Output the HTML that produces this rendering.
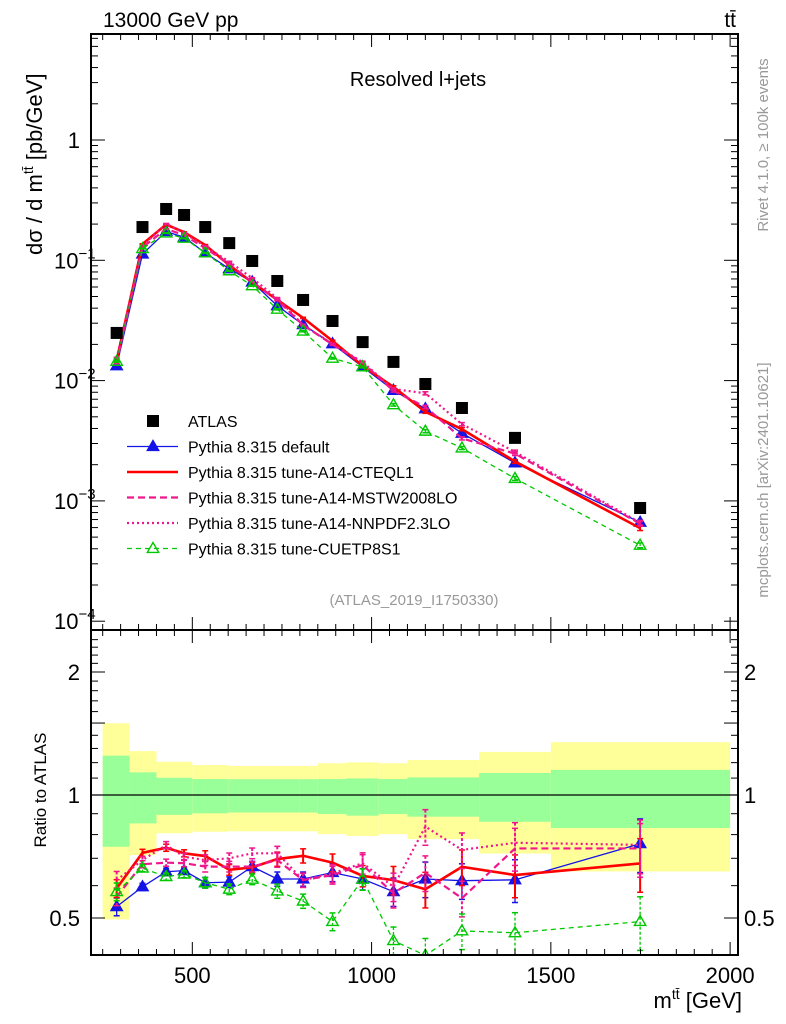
<!DOCTYPE html>
<html><head><meta charset="utf-8"><style>
body{margin:0;background:#fff;}
svg{display:block;font-family:"Liberation Sans",sans-serif;}
</style></head><body>
<svg id="c" width="786" height="1024" viewBox="0 0 786 1024"></svg>
<script>
const binEdges=[250,325,400,450,500,570,635,700,770,850,930,1020,1100,1200,1300,1500,2000];
const xCenters=[289,361,427,477,536,603,667,737,809,891,975,1061,1150,1252,1400,1749];
const atlas=[0.0249,0.189,0.267,0.238,0.189,0.139,0.0987,0.0673,0.0468,0.0313,0.0209,0.0143,0.00937,0.00592,0.00334,0.000873];
const rDefault=[0.533,0.596,0.649,0.653,0.610,0.612,0.668,0.623,0.623,0.646,0.623,0.580,0.623,0.617,0.620,0.760];
const rCTEQ=[0.591,0.722,0.743,0.720,0.709,0.656,0.665,0.697,0.710,0.683,0.634,0.619,0.588,0.667,0.637,0.680];
const rMSTW=[0.564,0.677,0.683,0.681,0.668,0.668,0.668,0.693,0.619,0.637,0.674,0.575,0.645,0.559,0.740,0.740];
const rNNPDF=[0.619,0.693,0.754,0.706,0.693,0.700,0.720,0.720,0.619,0.643,0.681,0.596,0.837,0.734,0.764,0.755];
const rCUETP=[0.580,0.662,0.631,0.640,0.610,0.588,0.622,0.582,0.550,0.490,0.622,0.440,0.405,0.465,0.460,0.490];
const relErr=[0.05,0.02,0.02,0.02,0.03,0.03,0.03,0.04,0.04,0.05,0.06,0.08,0.10,0.10,0.12,0.15];
const bandEdges=[250,325,400,500,600,700,800,850,930,1020,1100,1300,1500,2000];
const yelHi=[1.498,1.281,1.206,1.184,1.178,1.178,1.178,1.196,1.202,1.196,1.218,1.275,1.347];
const grnHi=[1.248,1.136,1.102,1.094,1.093,1.093,1.093,1.094,1.098,1.094,1.104,1.132,1.152];
const grnLo=[0.747,0.852,0.894,0.902,0.906,0.906,0.906,0.898,0.890,0.898,0.885,0.860,0.830];
const yelLo=[0.496,0.713,0.806,0.813,0.815,0.815,0.815,0.802,0.794,0.802,0.780,0.719,0.650];
const xTicks=[500,1000,1500,2000];
const mainTicks=[1,0.1,0.01,0.001,0.0001];
const mainTickLabels=["1","10","10","10","10"];
const mainTickExp=["","−1","−2","−3","−4"];
const ratioTicks=[0.5,1,2];
const ratioTickLabels=["0.5","1","2"];

const NS="http://www.w3.org/2000/svg";
const svg=document.getElementById('c');
const L=91,R=738,MT=34,MB=630,RT=630,RB=955;
const xmin=217.4,xmax=2022;
const X=m=>L+(m-xmin)/(xmax-xmin)*(R-L);
const Y=v=>140-120.3*Math.log10(v);
const YR=r=>795-408.6*Math.log10(r);
function el(tag,attrs,parent){const e=document.createElementNS(NS,tag);for(const k in attrs)e.setAttribute(k,attrs[k]);(parent||svg).appendChild(e);return e;}
function txt(x,y,s,attrs,parent){const t=el('text',Object.assign({x:x,y:y},attrs||{}),parent);t.textContent=s;return t;}

const defs=el('defs',{});
const cp1=el('clipPath',{id:'cm'},defs);el('rect',{x:L,y:MT,width:R-L,height:MB-MT},cp1);
const cp2=el('clipPath',{id:'cr'},defs);el('rect',{x:L,y:RT,width:R-L,height:RB-RT},cp2);

const gBands=el('g',{'clip-path':'url(#cr)'});


for(let i=0;i<bandEdges.length-1;i++){
  const x0=X(bandEdges[i]),x1=X(bandEdges[i+1]);
  const ry=el('rect',{x:x0,y:YR(yelHi[i]),width:x1-x0,height:YR(yelLo[i])-YR(yelHi[i]),fill:'#ffff99'},gBands);
  
  
  const rg=el('rect',{x:x0,y:YR(grnHi[i]),width:x1-x0,height:YR(grnLo[i])-YR(grnHi[i]),fill:'#99ff99'},gBands);
  
  
}
el('line',{x1:L,x2:R,y1:YR(1),y2:YR(1),stroke:'#000','stroke-width':1.2});

const series=[
 {name:'default',r:rDefault,color:'#1414e6',w:1.3,dash:'',marker:'tri-filled'},
 {name:'cteql1',r:rCTEQ,color:'#ff0000',w:2.6,dash:'',marker:''},
 {name:'mstw2008lo',r:rMSTW,color:'#f0168c',w:2.2,dash:'7,4',marker:''},
 {name:'nnpdf23lo',r:rNNPDF,color:'#f0168c',w:2.2,dash:'2,3',marker:''},
 {name:'cuetp8s1',r:rCUETP,color:'#00c800',w:1.3,dash:'5,4',marker:'tri-open'}
];
function tri(g,x,y,s,c,filled){const t=el('polygon',{points:`${x},${y-s} ${x-s*0.95},${y+s*0.65} ${x+s*0.95},${y+s*0.65}`,fill:filled?c:'none',stroke:c,'stroke-width':1.4},g);return t;}

function drawSeries(g,s,yfn,valfn,errScale){
  const pts=xCenters.map((m,i)=>[X(m),yfn(valfn(i))]);
  const pl=el('polyline',{points:pts.map(p=>p.join(',')).join(' '),fill:'none',stroke:s.color,'stroke-width':s.w,'stroke-dasharray':s.dash},g);
  
  
  xCenters.forEach((m,i)=>{
    const v=valfn(i),e=relErr[i]*errScale;
    const y1=yfn(v*(1+e)),y2=yfn(v*(1-e));
    el('line',{x1:X(m),x2:X(m),y1:y1,y2:y2,stroke:s.color,'stroke-width':Math.min(s.w,2),'stroke-dasharray':s.dash?'3,2':''},g);
    el('line',{x1:X(m)-3,x2:X(m)+3,y1:y1,y2:y1,stroke:s.color,'stroke-width':1.5},g);
    el('line',{x1:X(m)-3,x2:X(m)+3,y1:y2,y2:y2,stroke:s.color,'stroke-width':1.5},g);
    if(s.marker){const t=tri(g,X(m),yfn(v),6,s.color,s.marker==='tri-filled');
      
      }
  });
}
const gR=el('g',{'clip-path':'url(#cr)'});


series.forEach(s=>drawSeries(gR,s,YR,i=>s.r[i],1));

const gM=el('g',{'clip-path':'url(#cm)'});


series.forEach(s=>drawSeries(gM,s,Y,i=>atlas[i]*s.r[i],0.3));
xCenters.forEach((m,i)=>{
  const r=el('rect',{x:X(m)-6,y:Y(atlas[i])-6,width:12,height:12,fill:'#000'},gM);
  
  
});

for(const [t,b,nm] of [[MT,MB,'main-frame'],[RT,RB,'ratio-frame']]){
  const f=el('rect',{x:L,y:t,width:R-L,height:b-t,fill:'none',stroke:'#000','stroke-width':2});
  
  
}
for(let m=250;m<=2000;m+=50){
  const major=m%500===0,len=major?13:6;
  for(const [t,b] of [[MT,MB],[RT,RB]]){
    el('line',{x1:X(m),x2:X(m),y1:b,y2:b-len,stroke:'#000','stroke-width':1});
    el('line',{x1:X(m),x2:X(m),y1:t,y2:t+len,stroke:'#000','stroke-width':1});
  }
}
xTicks.forEach(m=>{const t=txt(X(m),983,String(m),{'font-size':22,'text-anchor':'middle'});
  
  });
for(let d=-4;d<=0;d++){
  for(let k=1;k<=9;k++){
    const v=k*Math.pow(10,d),y=Y(v);
    if(y<MT||y>MB)continue;
    const len=k===1?14:7;
    el('line',{x1:L,x2:L+len,y1:y,y2:y,stroke:'#000'});
    el('line',{x1:R,x2:R-len,y1:y,y2:y,stroke:'#000'});
  }
}
mainTicks.forEach((v,i)=>{
  const t=txt(mainTickExp[i]?54:80,Y(v)+8,mainTickLabels[i],{'font-size':22,'text-anchor':mainTickExp[i]?'start':'end'});
  
  
  if(mainTickExp[i]){const s=el('tspan',{dy:-10,'font-size':15},t);s.textContent=mainTickExp[i];}
});
for(let r=0.4;r<=2.41;r+=0.1){
  const y=YR(r);if(y<RT||y>RB)continue;
  const rr=Math.round(r*10)/10;const major=[0.5,1,1.5,2].includes(rr);const len=major?14:7;
  el('line',{x1:L,x2:L+len,y1:y,y2:y,stroke:'#000'});
  el('line',{x1:R,x2:R-len,y1:y,y2:y,stroke:'#000'});
}
ratioTicks.forEach((v,i)=>{
  const a=txt(80,YR(v)+8,ratioTickLabels[i],{'font-size':22,'text-anchor':'end'});
  
  
  const b=txt(744,YR(v)+8,ratioTickLabels[i],{'font-size':22,'text-anchor':'start'});
  
  
});

let t;
t=txt(103,27,'13000 GeV pp',{'font-size':21});
t=txt(736,27,'tt̄',{'font-size':21,'text-anchor':'end'});
t=txt(418,86,'Resolved l+jets',{'font-size':20,'text-anchor':'middle'});
t=txt(414,605,'(ATLAS_2019_I1750330)',{'font-size':15,'text-anchor':'middle',fill:'#999'});
t=txt(0,0,'dσ / d m',{'font-size':22,transform:'translate(42,255) rotate(-90)'});
{const s=el('tspan',{dy:-9,'font-size':14},t);s.textContent='tt̄';const s2=el('tspan',{dy:9},t);s2.textContent=' [pb/GeV]';}
t=txt(0,0,'Ratio to ATLAS',{'font-size':17,'text-anchor':'middle',transform:'translate(46,790) rotate(-90)'});
t=txt(742,1008,'',{'font-size':22,'text-anchor':'end'});
{const a=el('tspan',{},t);a.textContent='m';const b=el('tspan',{dy:-9,'font-size':14},t);b.textContent='tt̄';const c=el('tspan',{dy:9},t);c.textContent=' [GeV]';}
t=txt(0,0,'Rivet 4.1.0, ≥ 100k events',{'font-size':15,fill:'#999','text-anchor':'middle',transform:'translate(768,145) rotate(-90)'});
t=txt(0,0,'mcplots.cern.ch [arXiv:2401.10621]',{'font-size':15,fill:'#999','text-anchor':'middle',transform:'translate(768,480) rotate(-90)'});

const legend=[['ATLAS','sq',null],['Pythia 8.315 default','s',series[0]],['Pythia 8.315 tune-A14-CTEQL1','s',series[1]],['Pythia 8.315 tune-A14-MSTW2008LO','s',series[2]],['Pythia 8.315 tune-A14-NNPDF2.3LO','s',series[3]],['Pythia 8.315 tune-CUETP8S1','s',series[4]]];
const gL=el('g',{});


legend.forEach((e,i)=>{
  const y=421+i*25.5;
  const g=el('g',{},gL);
  
  
  if(e[1]==='sq'){el('rect',{x:147,y:y-6,width:12,height:12,fill:'#000'},g);}
  else{const s=e[2];el('line',{x1:127,x2:178,y1:y,y2:y,stroke:s.color,'stroke-width':s.w,'stroke-dasharray':s.dash},g);
    if(s.marker)tri(g,153,y,6,s.color,s.marker==='tri-filled');}
  txt(188,y+6,e[0],{'font-size':16},g);
});
</script>
</body></html>
